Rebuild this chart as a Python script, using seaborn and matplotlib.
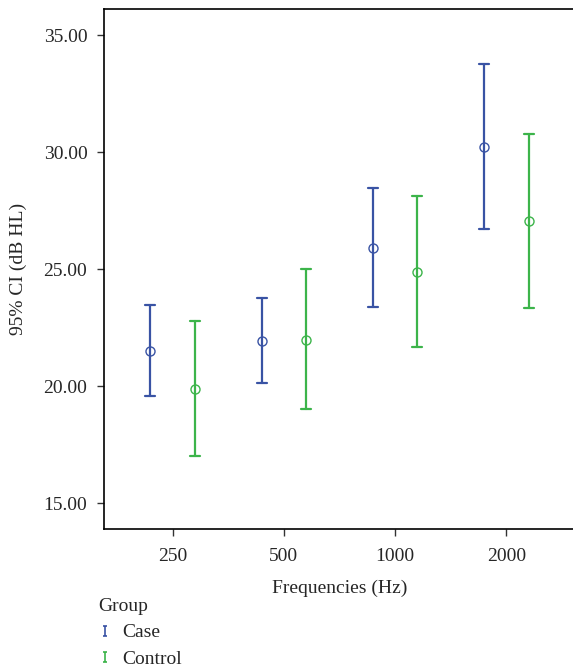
import matplotlib.pyplot as plt
import seaborn as sns
import pandas as pd
from matplotlib.lines import Line2D
from matplotlib.path import Path
from matplotlib.ticker import FormatStrFormatter

frequencies = ["250", "500", "1000", "2000"]
groups = ["Case", "Control"]

case_mean = [21.52, 21.95, 25.92, 30.24]
case_lo = [19.60, 20.12, 23.38, 26.72]
case_hi = [23.45, 23.77, 28.47, 33.77]

control_mean = [19.90, 21.99, 24.90, 27.06]
control_lo = [17.01, 19.02, 21.69, 23.36]
control_hi = [22.80, 25.00, 28.13, 30.77]

y_ticks = [15, 20, 25, 30, 35]

colors = {"Case": "#3953a4", "Control": "#3cb44a"}


def build_frame():
    # three rows per cell: median = mean, min/max = CI bounds
    rows = []
    series = {
        "Case": (case_lo, case_mean, case_hi),
        "Control": (control_lo, control_mean, control_hi),
    }
    for group, (lo, mid, hi) in series.items():
        for i, freq in enumerate(frequencies):
            for v in (lo[i], mid[i], hi[i]):
                rows.append({"Frequency": freq, "Group": group, "dB": v})
    return pd.DataFrame(rows)


df = build_frame()

sns.set_theme(style="white")
plt.rcParams["font.family"] = ["Liberation Serif", "DejaVu Serif"]

fig = plt.figure(figsize=(5.73, 6.71), dpi=100)
ax = fig.add_axes([0.1815, 0.2116, 0.822, 0.7745])

sns.pointplot(
    data=df,
    x="Frequency",
    y="dB",
    hue="Group",
    order=frequencies,
    hue_order=groups,
    palette=colors,
    estimator="median",
    errorbar=("pi", 100),
    dodge=0.4,
    linestyle="none",
    markers="o",
    markersize=6.5,
    markeredgewidth=1.0,
    markerfacecolor="none",
    capsize=0.09,
    err_kws={"linewidth": 1.6},
    legend=False,
    ax=ax,
)

for line in ax.lines:
    if line.get_marker() == "o":
        line.set_markerfacecolor("none")

ax.set_xlim(-0.617, 3.617)
ax.set_ylim(13.9, 36.1)
ax.set_yticks(y_ticks)
ax.yaxis.set_major_formatter(FormatStrFormatter("%.2f"))

for side in ["left", "bottom", "top"]:
    ax.spines[side].set_color("black")
    ax.spines[side].set_linewidth(1.2)
ax.spines["right"].set_visible(False)

ax.tick_params(axis="both", direction="out", length=5, width=1, color="#333333",
               labelsize=14, left=True, bottom=True)
ax.tick_params(axis="x", pad=9)
ax.tick_params(axis="y", pad=7)
ax.set_xlabel("Frequencies (Hz)", fontsize=14, labelpad=10)
ax.set_ylabel("95% CI (dB HL)", fontsize=14, labelpad=12)

cap_path = Path(
    [(-0.5, 1), (0.5, 1), (0, 1), (0, -1), (-0.5, -1), (0.5, -1)],
    [Path.MOVETO, Path.LINETO, Path.MOVETO, Path.LINETO, Path.MOVETO, Path.LINETO],
)
handles = [
    Line2D([], [], marker=cap_path, linestyle="none", color=colors[g],
           markersize=7, markeredgewidth=1.2, label=g)
    for g in groups
]
leg = fig.legend(
    handles=handles,
    title="Group",
    loc="upper left",
    bbox_to_anchor=(98 / 573, 1 - 598 / 671),
    frameon=False,
    fontsize=14,
    title_fontsize=14,
    borderpad=0,
    handlelength=0.75,
    handletextpad=0.5,
    labelspacing=0.45,
    borderaxespad=0,
)
leg._legend_box.align = "left"

fig.savefig("out.png", dpi=100)
